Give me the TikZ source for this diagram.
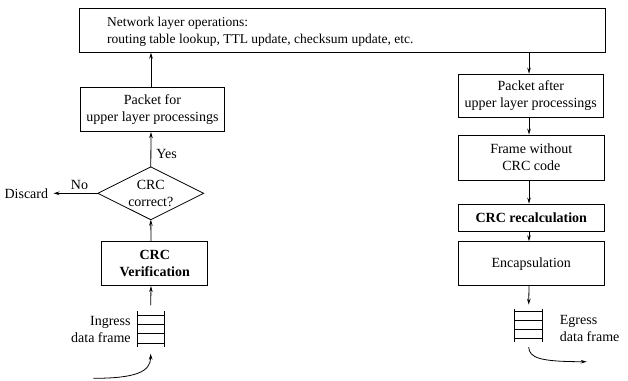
\documentclass[tikz,border=0pt]{standalone}
\usepackage{fontspec}
\setmainfont{Liberation Serif}
\usetikzlibrary{arrows.meta}
\begin{document}
\begin{tikzpicture}[x=1pt,y=-1pt,line width=0.8pt,
  every node/.style={font=\fontsize{14}{17}\selectfont,align=center,inner sep=0pt},
  procbox/.style={draw,rectangle},
  boldtext/.style={font=\fontsize{14}{17}\selectfont\bfseries},
  flow/.style={-{Stealth[length=6pt,width=3.6pt]}}]
\useasboundingbox (0,0) rectangle (628,380);

% vertical axes of the two columns
\coordinate (lx) at (151,0);
\coordinate (rx) at (529,0);

% network layer box
\node[procbox,minimum width=525.7,minimum height=44] (net) at (342.2,30.3) {};
\node[anchor=west,align=left,font=\fontsize{13.5}{17}\selectfont] (nettxt) at (106.7,31.5)
  {Network layer operations:\\routing table lookup, TTL update, checksum update, etc.};

% ingress side
\node[procbox,minimum width=143.6,minimum height=44] (pfor) at (152.5,109.7)
  {Packet for\\upper layer processings};
\node[minimum width=105,minimum height=52] (dec) at (150.8,193.3) {CRC\\correct?};
\draw (dec.north) -- (dec.east) -- (dec.south) -- (dec.west) -- cycle;
\node[procbox,boldtext,minimum width=106,minimum height=44] (ver) at (154.7,263.7)
  {CRC\\Verification};
\node[anchor=east] (disc) at (48.5,193.3) {Discard};
\node (no) at (79.5,185) {No};
\node[anchor=west] (yes) at (156,154) {Yes};

% ingress queue
\node[minimum width=26.7,minimum height=35] (inq) at (150.7,329.2) {};
\draw (inq.north west) -- (inq.south west) (inq.north east) -- (inq.south east);
\foreach \d in {4.3,13.3,22.3,31.6}
  \draw ([yshift=-\d pt]inq.north west) -- ([yshift=-\d pt]inq.north east);
\node[anchor=east,align=right] (inlbl) at (131,329.5) {Ingress\\data frame};
\coordinate (inflow) at (93.3,378.3);

% egress side
\node[procbox,minimum width=145,minimum height=43.7] (pafter) at (530.8,95.9)
  {Packet after\\upper layer processings};
\node[procbox,minimum width=146,minimum height=45] (fwo) at (531.3,157.5)
  {Frame without\\CRC code};
\node[procbox,boldtext,minimum width=146,minimum height=27.7] (recalc) at (531.3,217.9)
  {CRC recalculation};
\node[procbox,minimum width=146,minimum height=44] (encap) at (531.3,263.7)
  {Encapsulation};

% egress queue
\node[minimum width=27.3,minimum height=32.4] (outq) at (528.7,325.5) {};
\draw (outq.north west) -- (outq.south west) (outq.north east) -- (outq.south east);
\foreach \d in {2.4,11.4,20,29}
  \draw ([yshift=-\d pt]outq.north west) -- ([yshift=-\d pt]outq.north east);
\node[anchor=west,align=left] (outlbl) at (559.5,328.3) {Egress\\data frame};
\coordinate (outflow) at (586.7,361.7);

% ingress connectors
\draw[flow] (inflow) .. controls (135,378.3) and (150.7,372) .. ([yshift=-6.6pt]inq.south);
\draw[flow] ([yshift=6pt]inq.north) -- (ver.south -| lx);
\draw[flow] (ver.north -| lx) -- (dec.south);
\draw[flow] (dec.north) -- (pfor.south -| lx);
\draw[flow,shorten >=5pt] (dec.west) -- (disc.east);
\draw[flow] (pfor.north -| lx) -- (net.south -| lx);

% egress connectors
\draw[flow] (net.south -| rx) -- (pafter.north -| rx);
\draw[flow] (pafter.south -| rx) -- (fwo.north -| rx);
\draw[flow] (fwo.south -| rx) -- (recalc.north -| rx);
\draw[flow] (recalc.south -| rx) -- (encap.north -| rx);
\draw[flow] (encap.south -| rx) -- ([yshift=4.3pt]outq.north);
\draw[flow] ([yshift=-5pt]outq.south) .. controls (529.3,358) and (540,361.7) .. (outflow);
\end{tikzpicture}
\end{document}
